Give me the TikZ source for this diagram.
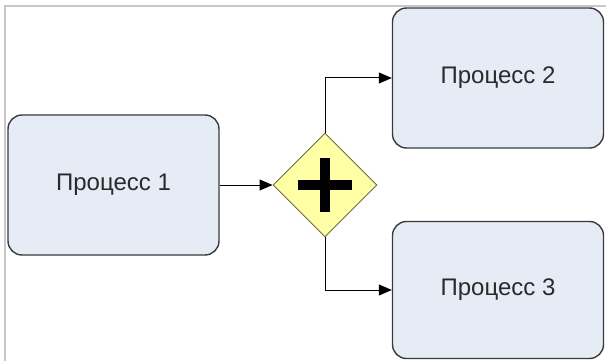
\documentclass[tikz,border=0pt]{standalone}
\usepackage{fontspec}
\setmainfont{Liberation Sans}
\usetikzlibrary{shapes.geometric,arrows.meta}
\definecolor{procfill}{HTML}{E6ECF6}
\definecolor{procline}{HTML}{3A3A3A}
\definecolor{gatefill}{HTML}{FFFFA6}
\definecolor{gateline}{HTML}{6E6A3A}
\definecolor{framegray}{HTML}{C8C8C8}
\definecolor{labeltext}{HTML}{2A2A2A}
\begin{document}
\begin{tikzpicture}[x=1pt,y=-1pt,
  process/.style={draw=procline,line width=1.4pt,fill=procfill,rounded corners=14pt,
    minimum width=211pt,minimum height=140pt,inner sep=0pt,text=labeltext,
    font=\fontsize{24}{27}\selectfont},
  gateway/.style={diamond,draw=gateline,line width=0.9pt,fill=gatefill,
    minimum width=104pt,minimum height=104pt,inner sep=0pt},
  flow/.style={line width=1pt,-{Triangle[length=13pt,width=11pt]}}]
\useasboundingbox (0,0) rectangle (606,361);
% outer frame
\draw[framegray,line width=1.2pt] (606,6) -- (5,6) -- (5,361);
% nodes
\node[process] (p1) at (113.5,185) {Процесс 1};
\node[process] (p2) at (498,78) {Процесс 2};
\node[process,minimum height=137pt] (p3) at (498,290) {Процесс 3};
\node[gateway] (g) at (325,185) {};
% parallel-gateway plus sign
\fill[black] ([xshift=-27pt,yshift=-5pt]g.center) rectangle ([xshift=27pt,yshift=5pt]g.center);
\fill[black] ([xshift=-5pt,yshift=-27pt]g.center) rectangle ([xshift=5pt,yshift=27pt]g.center);
% sequence flows
\draw[flow] (p1.east) -- (g.west);
\draw[flow] (g.north) |- (p2.west);
\draw[flow] (g.south) |- (p3.west);
\end{tikzpicture}
\end{document}
